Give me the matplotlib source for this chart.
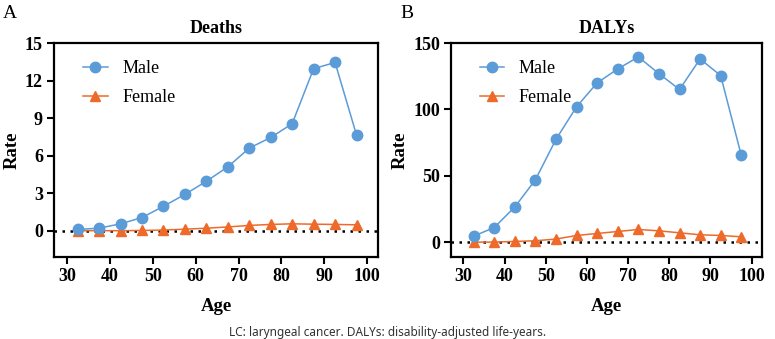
import numpy as np
import matplotlib.pyplot as plt

ages = [32.5, 37.5, 42.5, 47.5, 52.5, 57.5, 62.5, 67.5, 72.5, 77.5, 82.5, 87.5, 92.5, 97.5]

deaths_male = [0.1, 0.2, 0.55, 1.05, 1.95, 2.9, 3.95, 5.1, 6.6, 7.45, 8.55, 12.95, 13.45, 7.65]
deaths_female = [0.0, 0.0, 0.0, 0.02, 0.05, 0.12, 0.2, 0.3, 0.42, 0.5, 0.55, 0.52, 0.5, 0.47]

dalys_male = [4.5, 11, 26.5, 47, 77.5, 102, 120, 130.5, 139.5, 127, 115, 138, 125.5, 65.5]
dalys_female = [0.0, 0.0, 0.5, 1.0, 2.3, 5.0, 6.5, 8.0, 9.5, 8.5, 7.0, 5.5, 5.0, 4.0]

blue = '#5B9BD8'
orange = '#EE6A2A'
serif = 'Liberation Serif'

fig = plt.figure(figsize=(7.75, 3.39), dpi=100)

panels = [
    ("A", "Deaths", deaths_male, deaths_female, (-2.1, 15), [0, 3, 6, 9, 12, 15],
     [0.0697, 0.242, 0.418, 0.631]),
    ("B", "DALYs", dalys_male, dalys_female, (-11.2, 150), [0, 50, 100, 150],
     [0.582, 0.242, 0.401, 0.631]),
]

for letter, title, male, female, ylim, yticks, pos in panels:
    ax = fig.add_axes(pos)
    ax.axhline(0, color='black', linestyle=(0, (1, 2.2)), linewidth=1.8, zorder=1)
    ax.plot(ages, male, '-o', color=blue, markersize=7.5, linewidth=1.1, label='Male', zorder=3)
    ax.plot(ages, female, '-^', color=orange, markersize=7.5, linewidth=1.1, label='Female', zorder=2)
    ax.set_xlim(27, 102.5)
    ax.set_ylim(*ylim)
    ax.set_xticks([30, 40, 50, 60, 70, 80, 90, 100])
    ax.set_yticks(yticks)
    for s in ax.spines.values():
        s.set_linewidth(1.6)
    ax.tick_params(direction='out', length=5, width=1.5, pad=3)
    for lab in ax.get_xticklabels() + ax.get_yticklabels():
        lab.set_fontfamily(serif)
        lab.set_fontweight('bold')
        lab.set_fontsize(13)
    ax.set_title(title, fontfamily=serif, fontweight='bold', fontsize=13, pad=7)
    ax.set_ylabel('Rate', fontfamily=serif, fontweight='bold', fontsize=13.5, labelpad=3)
    ax.set_xlabel('Age', fontfamily=serif, fontweight='bold', fontsize=13.5, labelpad=9)
    ax.legend(loc='upper left', bbox_to_anchor=(0.04, 0.995), frameon=False,
              prop={'family': serif, 'size': 13}, handlelength=1.35, labelspacing=0.65,
              handletextpad=0.8)
    fig.text(pos[0] - 0.066, 0.985, letter, fontfamily=serif, fontsize=14, va='top', ha='left')

fig.text(0.5, 0.0, 'LC: laryngeal cancer. DALYs: disability-adjusted life-years.',
         fontfamily='Noto Sans', fontsize=8.5, color='#333333', ha='center', va='bottom')

fig.savefig('out.png', dpi=100)
